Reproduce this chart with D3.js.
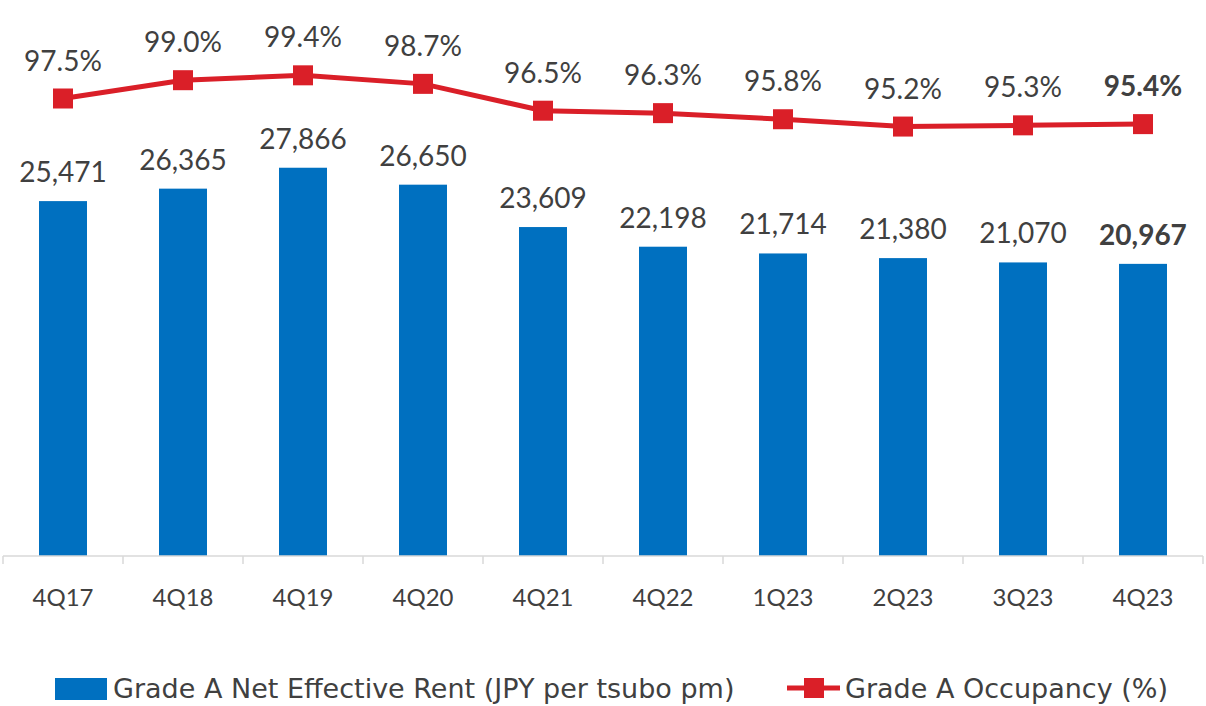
<!DOCTYPE html>
<html>
<head>
<meta charset="utf-8">
<script src="https://cdn.jsdelivr.net/npm/d3@7"></script>
<style>
  body { margin: 0; background: #fff; }
  text { font-family: Lato, "Open Sans", sans-serif; fill: #404040; }
  .leg { font-family: "DejaVu Sans", sans-serif; }
</style>
</head>
<body>
<div id="chart"></div>
<script>
// data
var quarters = ["4Q17", "4Q18", "4Q19", "4Q20", "4Q21", "4Q22", "1Q23", "2Q23", "3Q23", "4Q23"];
var rent = [25471, 26365, 27866, 26650, 23609, 22198, 21714, 21380, 21070, 20967];
var occupancy = [97.5, 99.0, 99.4, 98.7, 96.5, 96.3, 95.8, 95.2, 95.3, 95.4];

var width = 1206, height = 706;
var blue = "#0070c0", red = "#da1f28";

var svg = d3.select("#chart")
    .append("svg")
    .attr("width", width)
    .attr("height", height);

// X axis
var x = d3.scaleBand()
    .domain(quarters)
    .range([3, 1203])
    .paddingInner(0)
    .paddingOuter(0);

// bar scale (left, hidden) and line scale (right, hidden)
var y = d3.scaleLinear().domain([0, 30000]).range([556, 138]);
var y2 = d3.scaleLinear().domain([60, 100]).range([556, 68]);

var barW = x.bandwidth() * 0.4;

// bars
svg.append("g")
    .selectAll("rect")
    .data(quarters)
    .join("rect")
    .attr("x", d => x(d) + (x.bandwidth() - barW) / 2)
    .attr("y", (d, i) => y(rent[i]))
    .attr("width", barW)
    .attr("height", (d, i) => y(0) - y(rent[i]))
    .attr("fill", blue);

// axis line + ticks at band edges
var axis = svg.append("g");
axis.append("line")
    .attr("x1", x.range()[0]).attr("x2", x.range()[1])
    .attr("y1", y(0)).attr("y2", y(0))
    .attr("stroke", "#d9d9d9").attr("stroke-width", 1.5);
axis.selectAll(".tick")
    .data(quarters.concat([null]))
    .join("line")
    .attr("x1", (d, i) => x.range()[0] + i * x.bandwidth())
    .attr("x2", (d, i) => x.range()[0] + i * x.bandwidth())
    .attr("y1", y(0)).attr("y2", y(0) + 8)
    .attr("stroke", "#d9d9d9").attr("stroke-width", 1.5);
axis.selectAll("text")
    .data(quarters)
    .join("text")
    .attr("x", d => x(d) + x.bandwidth() / 2)
    .attr("y", 606)
    .attr("text-anchor", "middle")
    .style("font-size", "24px")
    .text(d => d);

// bar labels
svg.append("g")
    .selectAll("text")
    .data(quarters)
    .join("text")
    .attr("x", d => x(d) + x.bandwidth() / 2)
    .attr("y", (d, i) => y(rent[i]) - 19)
    .attr("text-anchor", "middle")
    .style("font-size", "28px")
    .style("font-weight", (d, i) => i == quarters.length - 1 ? "bold" : "normal")
    .text((d, i) => d3.format(",")(rent[i]));

// occupancy line
var line = d3.line()
    .x((d, i) => x(quarters[i]) + x.bandwidth() / 2)
    .y(d => y2(d));

svg.append("path")
    .datum(occupancy)
    .attr("d", line)
    .attr("fill", "none")
    .attr("stroke", red)
    .attr("stroke-width", 5);

svg.append("g")
    .selectAll("rect")
    .data(occupancy)
    .join("rect")
    .attr("x", (d, i) => x(quarters[i]) + x.bandwidth() / 2 - 10)
    .attr("y", d => y2(d) - 10)
    .attr("width", 20)
    .attr("height", 20)
    .attr("fill", red);

svg.append("g")
    .selectAll("text")
    .data(occupancy)
    .join("text")
    .attr("x", (d, i) => x(quarters[i]) + x.bandwidth() / 2)
    .attr("y", d => y2(d) - 28)
    .attr("text-anchor", "middle")
    .style("font-size", "28px")
    .style("font-weight", (d, i) => i == occupancy.length - 1 ? "bold" : "normal")
    .text(d => d.toFixed(1) + "%");

// legend
var legend = svg.append("g");
legend.append("rect").attr("x", 55).attr("y", 678).attr("width", 52).attr("height", 22).attr("fill", blue);
legend.append("text").attr("class", "leg").attr("x", 113).attr("y", 698).style("font-size", "27px")
    .text("Grade A Net Effective Rent (JPY per tsubo pm)");
legend.append("line").attr("x1", 787).attr("x2", 840).attr("y1", 688).attr("y2", 688)
    .attr("stroke", red).attr("stroke-width", 5);
legend.append("rect").attr("x", 804).attr("y", 678).attr("width", 20).attr("height", 20).attr("fill", red);
legend.append("text").attr("class", "leg").attr("x", 845).attr("y", 698).style("font-size", "27px")
    .text("Grade A Occupancy (%)");
</script>
</body>
</html>
